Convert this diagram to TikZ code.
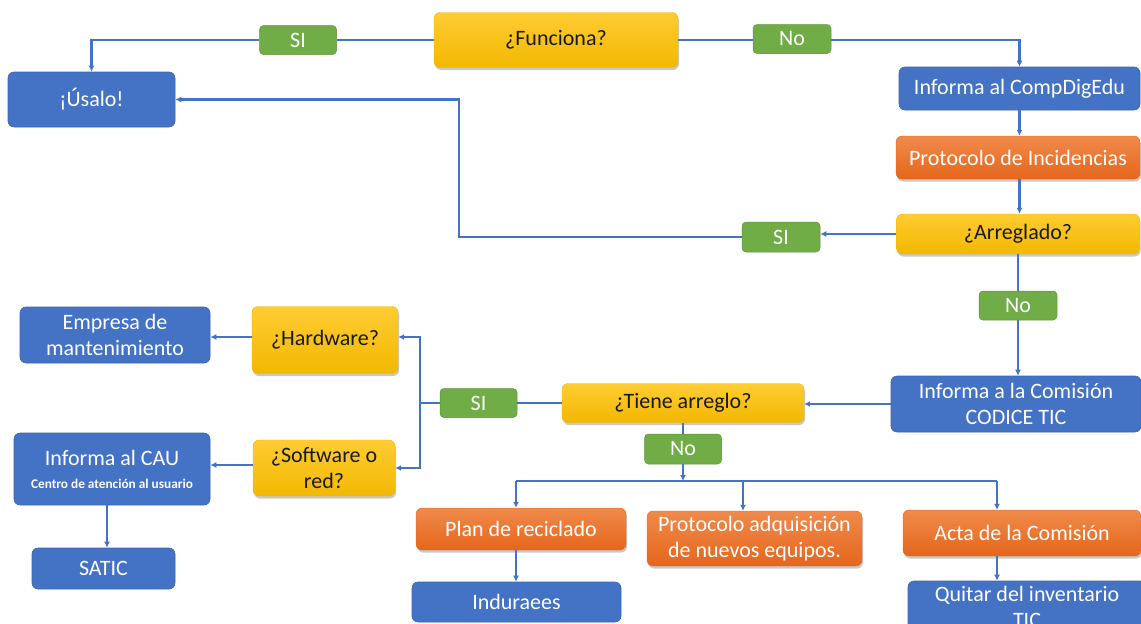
\documentclass[tikz,border=0pt]{standalone}
\usepackage{fontspec}
\setmainfont{Carlito}
\usetikzlibrary{arrows.meta,shadows}
\definecolor{cblue}{HTML}{4472C4}
\definecolor{cbluedk}{HTML}{3B64AE}
\definecolor{corangeT}{HTML}{F08A4B}
\definecolor{corangeB}{HTML}{E5661C}
\definecolor{cyellowT}{HTML}{FFCC33}
\definecolor{cyellowB}{HTML}{F2B800}
\definecolor{cgreen}{HTML}{70AD47}
\definecolor{cline}{HTML}{4472C4}
\tikzset{
  base/.style={rounded corners=6pt, inner sep=2pt, align=center,
    font=\fontsize{22}{26}\selectfont},
  bluebox/.style={base, fill=cblue, draw=cbluedk, line width=0.6pt, text=white},
  orangebox/.style={base, top color=corangeT, bottom color=corangeB, draw=corangeB,
    line width=0.4pt, text=white,
    drop shadow={shadow xshift=1pt, shadow yshift=-2.5pt, opacity=0.3, fill=black!70}},
  yellowbox/.style={base, top color=cyellowT, bottom color=cyellowB, draw=cyellowB,
    line width=0.4pt, text=black!90,
    drop shadow={shadow xshift=1pt, shadow yshift=-2.5pt, opacity=0.3, fill=black!70}},
  lbl/.style={base, fill=cgreen, draw=cgreen!85!black, line width=0.5pt, text=white,
    minimum width=77pt, minimum height=29pt, rounded corners=4pt},
  conn/.style={draw=cline, line width=2.2pt},
  arr/.style={conn, -{Latex[length=6pt,width=6pt]}},
}
\begin{document}
\begin{tikzpicture}[x=1pt,y=-1pt]
\useasboundingbox (0,0) rectangle (1141,624);
\clip (0,0) rectangle (1141,624);
% nodes
\node[bluebox, minimum width=167pt, minimum height=55pt] (usalo) at (91.5,99.5) {¡Úsalo!};
\node[yellowbox, minimum width=244pt, minimum height=55pt] (func) at (556,40) {¿Funciona?};
\node[lbl] (si1) at (298,40) {SI};
\node[lbl, minimum width=78pt] (no1) at (792,39) {No};
\node[bluebox, minimum width=241pt, minimum height=43pt] (inf1) at (1019.5,88.5) {Informa al CompDigEdu};
\node[orangebox, minimum width=244pt, minimum height=43pt] (prot1) at (1018,157.5) {Protocolo de Incidencias};
\node[yellowbox, minimum width=243pt, minimum height=40pt] (arr1) at (1018,234) {¿Arreglado?};
\node[lbl, minimum width=78pt, minimum height=30pt] (si2) at (781,237) {SI};
\node[lbl, minimum width=78pt] (no2) at (1018,305.5) {No};
\node[bluebox, minimum width=250pt, minimum height=56pt] (infc) at (1016,404) {Informa a la Comisión\\CODICE TIC};
\node[yellowbox, minimum width=242pt, minimum height=39pt] (tiene) at (683,403) {¿Tiene arreglo?};
\node[lbl] (si3) at (478.5,403) {SI};
\node[lbl, minimum height=30pt] (no3) at (683,449) {No};
\node[yellowbox, minimum width=146pt, minimum height=67pt] (hard) at (325,340) {¿Hardware?};
\node[yellowbox, minimum width=142pt, minimum height=56pt] (soft) at (324,468) {¿Software o\\red?};
\node[bluebox, minimum width=190pt, minimum height=56pt] (emp) at (115,335) {Empresa de\\mantenimiento};
\node[bluebox, minimum width=196pt, minimum height=72pt] (cau) at (112,469)
  {Informa al CAU\\[-3pt]{\fontsize{13.3}{15}\selectfont\bfseries Centro de atención al usuario}};
\node[bluebox, minimum width=143pt, minimum height=41pt] (satic) at (103.5,568.5) {SATIC};
\node[orangebox, minimum width=210pt, minimum height=42pt] (plan) at (521,529) {Plan de reciclado};
\node[orangebox, minimum width=215pt, minimum height=55pt] (protad) at (754.5,538.5) {Protocolo adquisición\\de nuevos equipos.};
\node[orangebox, minimum width=238pt, minimum height=46pt] (acta) at (1022,533) {Acta de la Comisión};
\node[bluebox, minimum width=209pt, minimum height=40pt] (indu) at (516.5,602) {Induraees};
\node[bluebox, minimum width=238pt, minimum height=52pt] (quitar) at (1027,607) {Quitar del inventario\\TIC};
% coordinates
\coordinate (k1) at (459,237);
\coordinate (k2) at (420,403);
\coordinate (k3) at (683,481);
\coordinate (b1) at (516,481);
\coordinate (b2) at (743,481);
\coordinate (b3) at (997,481);
% connectors
\draw[conn] (func.west) -- (si1.east);
\draw[arr] (si1.west) -| (usalo.north);
\draw[conn] (func.east) -- (func.east -| no1.west);
\draw[arr] (func.east -| no1.east) -| (inf1.north);
\draw[arr] (inf1.south) -- (prot1.north -| inf1.south);
\draw[arr] (prot1.south -| inf1.south) -- (arr1.north -| inf1.south);
\draw[arr] (arr1.west) -- (arr1.west -| si2.east);
\draw[arr] (si2.west) -- (k1) |- (usalo.east);
\draw[conn] (arr1.south) -- (no2.north);
\draw[arr] (no2.south) -- (infc.north -| no2.south);
\draw[arr] (infc.west) -- (infc.west -| tiene.east);
\draw[conn] (tiene.west) -- (si3.east);
\draw[conn] (si3.west) -- (k2);
\draw[arr] (k2) |- ([yshift=3pt]hard.east);
\draw[arr] (k2) |- (soft.east);
\draw[arr] ([yshift=3pt]hard.west) -- ([yshift=3pt]hard.west -| emp.east);
\draw[arr] ([yshift=3pt]soft.west) -- ([yshift=3pt]soft.west -| cau.east);
\draw[arr] ([xshift=-5pt]cau.south) -- ([xshift=-5pt]cau.south |- satic.north);
\draw[conn] (tiene.south) -- (no3.north);
\draw[arr] (no3.south) -- (k3);
\draw[conn] (b1) -- (b3);
\draw[arr] (b1) -- (b1 |- plan.north);
\draw[arr] (b2) -- (b2 |- protad.north);
\draw[arr] (b3) -- (b3 |- acta.north);
\draw[arr] (b1 |- plan.south) -- (b1 |- indu.north);
\draw[arr] (b3 |- acta.south) -- (b3 |- quitar.north);
\end{tikzpicture}
\end{document}
